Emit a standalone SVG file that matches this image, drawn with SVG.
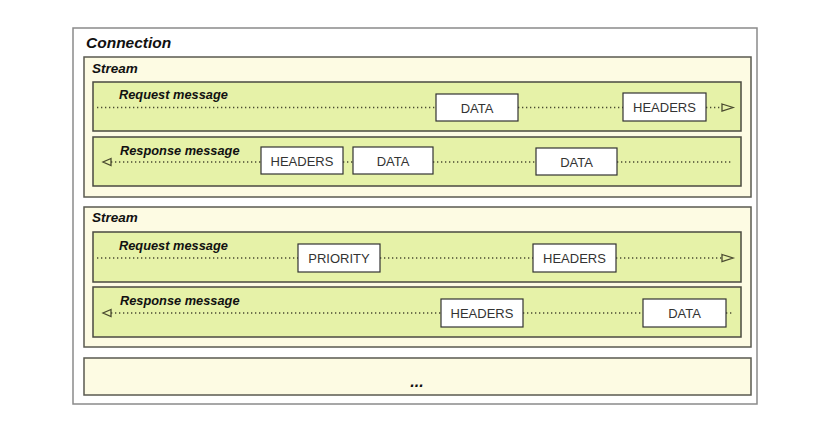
<svg xmlns="http://www.w3.org/2000/svg" width="818" height="429" viewBox="0 0 818 429">
<style>
.conn{fill:#ffffff;stroke:#8a8a8a;stroke-width:1.5}
.stream{fill:#fdfbe3;stroke:#5a5a50;stroke-width:1.5}
.msg{fill:#e6f2a8;stroke:#4a4a40;stroke-width:1.5}
.frame{fill:#ffffff;stroke:#333333;stroke-width:1.2}
.ft{font-family:"Liberation Sans",Arial,sans-serif;font-size:13px;fill:#333;text-anchor:middle}
.lbl{font-family:"Liberation Sans",Arial,sans-serif;font-weight:bold;font-style:italic;fill:#111}
.dot{stroke:#4a4a30;stroke-width:1.3;stroke-dasharray:1.3 2.7;fill:none}
.arr{fill:none;stroke:#4a4a30;stroke-width:1.3}
</style>
<rect width="818" height="429" fill="#ffffff"/>
<g id="connection">
<rect class="conn" x="73" y="28" width="684" height="376"/>
<text class="lbl" x="86" y="48" font-size="15.5">Connection</text>
</g>
<g id="stream1">
<rect class="stream" x="84" y="57" width="667" height="140"/>
<text class="lbl" x="92" y="73" font-size="13.5">Stream</text>
</g>
<g id="req1">
<rect class="msg" x="93" y="82" width="648" height="49"/>
<text class="lbl" x="119" y="99" font-size="12.8">Request message</text>
</g>
<g id="resp1">
<rect class="msg" x="93" y="137" width="648" height="49"/>
<text class="lbl" x="120" y="155" font-size="12.8">Response message</text>
</g>
<g id="stream2">
<rect class="stream" x="84" y="207" width="667" height="140"/>
<text class="lbl" x="92" y="222" font-size="13.5">Stream</text>
</g>
<g id="req2">
<rect class="msg" x="93" y="232" width="648" height="50"/>
<text class="lbl" x="119" y="250" font-size="12.8">Request message</text>
</g>
<g id="resp2">
<rect class="msg" x="93" y="287" width="648" height="50"/>
<text class="lbl" x="120" y="305" font-size="12.8">Response message</text>
</g>
<g id="more">
<rect class="stream" x="84" y="358" width="667" height="37"/>
<text class="lbl" x="417" y="387" font-size="16" text-anchor="middle" font-style="normal">...</text>
</g>
<g id="connectors">
<path class="dot" d="M97 107.5H436M518 107.5H623M706 107.5H722"/>
<path class="arr" d="M722 104L733 107.5L722 111Z"/>
<path class="dot" d="M111 162H261M343 162H353M433 162H536M617 162H733"/>
<path class="arr" d="M111 158.5L103 162L111 165.5Z"/>
<path class="dot" d="M97 258H298M380 258H533M616 258H722"/>
<path class="arr" d="M722 254.5L733 258L722 261.5Z"/>
<path class="dot" d="M111 313H441M523 313H643M726 313H733"/>
<path class="arr" d="M111 309.5L103 313L111 316.5Z"/>
</g>
<g id="f1"><rect class="frame" x="436" y="94" width="82" height="27"/><text class="ft" x="477" y="112.5">DATA</text></g>
<g id="f2"><rect class="frame" x="623" y="93" width="83" height="28"/><text class="ft" x="664.5" y="112">HEADERS</text></g>
<g id="f3"><rect class="frame" x="261" y="147" width="82" height="27"/><text class="ft" x="302" y="165.5">HEADERS</text></g>
<g id="f4"><rect class="frame" x="353" y="147" width="80" height="27"/><text class="ft" x="393" y="165.5">DATA</text></g>
<g id="f5"><rect class="frame" x="536" y="148" width="81" height="27"/><text class="ft" x="576.5" y="166.5">DATA</text></g>
<g id="f6"><rect class="frame" x="298" y="244" width="82" height="28"/><text class="ft" x="339" y="263">PRIORITY</text></g>
<g id="f7"><rect class="frame" x="533" y="244" width="83" height="28"/><text class="ft" x="574.5" y="263">HEADERS</text></g>
<g id="f8"><rect class="frame" x="441" y="299" width="82" height="28"/><text class="ft" x="482" y="318">HEADERS</text></g>
<g id="f9"><rect class="frame" x="643" y="299" width="83" height="28"/><text class="ft" x="684.5" y="318">DATA</text></g>
</svg>
